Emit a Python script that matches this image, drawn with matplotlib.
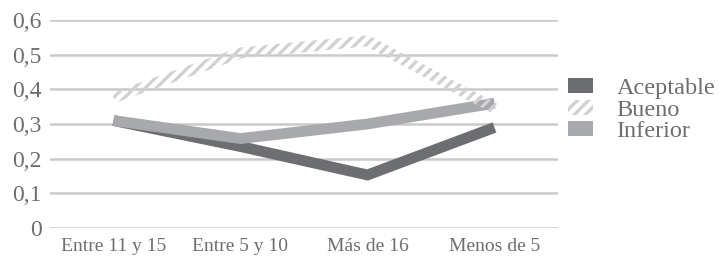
import numpy as np
import matplotlib
matplotlib.use("Agg")
import matplotlib.pyplot as plt
from matplotlib.patches import Patch, Polygon
from matplotlib.ticker import FuncFormatter

categories = ["Entre 11 y 15", "Entre 5 y 10", "Más de 16", "Menos de 5"]
aceptable = [0.31, 0.235, 0.153, 0.29]
bueno = [0.376, 0.505, 0.54, 0.345]
inferior = [0.31, 0.258, 0.30, 0.36]
series_names = ["Aceptable", "Bueno", "Inferior"]
yticks = [0, 0.1, 0.2, 0.3, 0.4, 0.5, 0.6]

C_DARK = "#6d6e71"
C_LIGHT = "#a7a9ac"
C_HATCH = "#d0d1d3"
C_GRID = "#c9c9c9"
C_TEXT = "#6d6e71"

plt.rcParams["font.family"] = ["Liberation Serif", "DejaVu Serif"]
plt.rcParams["hatch.linewidth"] = 2.4

fig = plt.figure(figsize=(7.19, 2.56), dpi=100)
ax = fig.add_axes([50/719, 28/256, 508/719, 208/256])
x = np.arange(len(categories))
ax.set_xlim(-0.5, len(categories) - 0.5)
ax.set_ylim(0, 0.6)

for s in ax.spines.values():
    s.set_visible(False)
ax.set_yticks(yticks)
for yv in yticks:
    ax.axhline(yv, color=C_GRID, lw=1.8, zorder=0)
ax.yaxis.set_major_formatter(FuncFormatter(lambda v, p: ("%g" % round(v, 1)).replace(".", ",")))
ax.tick_params(axis="y", length=0, pad=6, labelsize=17, labelcolor=C_TEXT)
ax.set_xticks(x)
ax.set_xticklabels(categories)
ax.tick_params(axis="x", length=0, pad=7, labelsize=14, labelcolor=C_TEXT)

lw = 7.8
ax.plot(x, aceptable, color=C_DARK, lw=lw, solid_capstyle="butt", solid_joinstyle="miter", zorder=2)
ax.plot(x, inferior, color=C_LIGHT, lw=lw, solid_capstyle="butt", solid_joinstyle="miter", zorder=3)

# hatched thick line for Bueno built in display space from the data
pts = ax.transData.transform(np.column_stack([x, bueno]))
half = lw / 72 * 100 / 2
n = len(pts)
normals = []
for i in range(n - 1):
    d = pts[i + 1] - pts[i]
    d = d / np.hypot(*d)
    normals.append(np.array([-d[1], d[0]]))
offs = []
for i in range(n):
    if i == 0:
        offs.append(normals[0] * half)
    elif i == n - 1:
        offs.append(normals[-1] * half)
    else:
        m = normals[i - 1] + normals[i]
        m = m / np.hypot(*m)
        offs.append(m * half / np.dot(m, normals[i]))
upper = [pts[i] + offs[i] for i in range(n)]
lower = [pts[i] - offs[i] for i in range(n)]
poly = np.array(upper + lower[::-1])
pg = Polygon(poly, closed=True, transform=None, facecolor="none",
             edgecolor=C_HATCH, hatch="///", lw=0, zorder=4)
fig.add_artist(pg)

handles = [Patch(facecolor=C_DARK, edgecolor="none"),
           Patch(facecolor="none", edgecolor=C_HATCH, hatch="///", lw=0),
           Patch(facecolor=C_LIGHT, edgecolor="none")]
leg = fig.legend(handles, series_names, loc="center left", bbox_to_anchor=(559/719, 0.57),
                 frameon=False, fontsize=17.5, handlelength=1.04, handleheight=0.58,
                 handletextpad=0.95, labelspacing=0.02, labelcolor=C_TEXT,
                 borderaxespad=0, borderpad=0.37)

fig.savefig("out.png", dpi=100)
